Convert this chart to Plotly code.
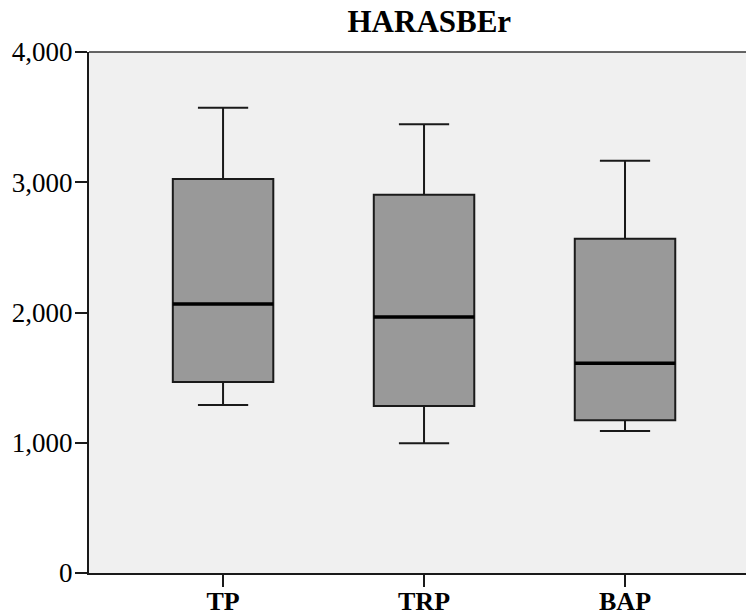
import plotly.graph_objects as go

# Summary statistics per group
categories = ["TP", "TRP", "BAP"]
lower_whisker = [1290, 996, 1090]
q1_values = [1466, 1282, 1172]
medians = [2065, 1965, 1610]
q3_values = [3025, 2904, 2567]
upper_whisker = [3572, 3445, 3165]

y_ticks = [0, 1000, 2000, 3000, 4000]

BOX_WIDTH = 0.5
positions = list(range(len(categories)))
SERIF = "Liberation Serif, Times New Roman, serif"
LINE = "#1a1a1a"

fig = go.Figure()
fig.add_trace(go.Box(
    x=positions,
    q1=q1_values,
    median=medians,
    q3=q3_values,
    lowerfence=lower_whisker,
    upperfence=upper_whisker,
    width=BOX_WIDTH,
    whiskerwidth=0.5,
    fillcolor="#999999",
    line=dict(color=LINE, width=2),
    boxpoints=False,
    hoverinfo="skip",
    showlegend=False,
))

# Heavier median bars drawn over each box
for pos, med in zip(positions, medians):
    fig.add_trace(go.Scatter(
        x=[pos - BOX_WIDTH / 2, pos + BOX_WIDTH / 2],
        y=[med, med],
        mode="lines",
        line=dict(color="black", width=3.5),
        hoverinfo="skip",
        showlegend=False,
    ))

# thin frame line along the top of the plotting area
fig.add_shape(type="line", xref="paper", yref="paper", x0=0, x1=1, y0=1, y1=1,
              line=dict(color="#333333", width=1.5))

fig.update_layout(
    width=746,
    height=615,
    margin=dict(l=89, r=0, t=52, b=42),
    paper_bgcolor="white",
    plot_bgcolor="#f0f0f0",
    title=dict(
        text="<b>HARASBEr</b>",
        font=dict(family=SERIF, size=31, color="black"),
        x=0.518, xanchor="center", xref="paper",
        y=0.966, yanchor="middle", yref="container",
        automargin=False,
    ),
    xaxis=dict(
        range=[-0.667, 2.602],
        tickmode="array",
        tickvals=positions,
        ticktext=[f"<b>{c}</b>" for c in categories],
        tickfont=dict(family=SERIF, size=26, color="black"),
        ticks="outside",
        ticklen=12,
        tickwidth=2,
        tickcolor=LINE,
        ticklabelstandoff=-8,
        showline=True,
        linecolor=LINE,
        linewidth=2,
        showgrid=False,
        zeroline=False,
        fixedrange=True,
        automargin=False,
    ),
    yaxis=dict(
        range=[0, 4000],
        tickmode="array",
        tickvals=y_ticks,
        tickformat=",d",
        tickfont=dict(family=SERIF, size=27, color="black"),
        ticks="outside",
        ticklen=12,
        tickwidth=2,
        tickcolor=LINE,
        ticklabelstandoff=-3,
        showline=True,
        linecolor=LINE,
        linewidth=2,
        showgrid=False,
        zeroline=False,
        fixedrange=True,
        automargin=False,
    ),
)

fig.write_html("out.html")
